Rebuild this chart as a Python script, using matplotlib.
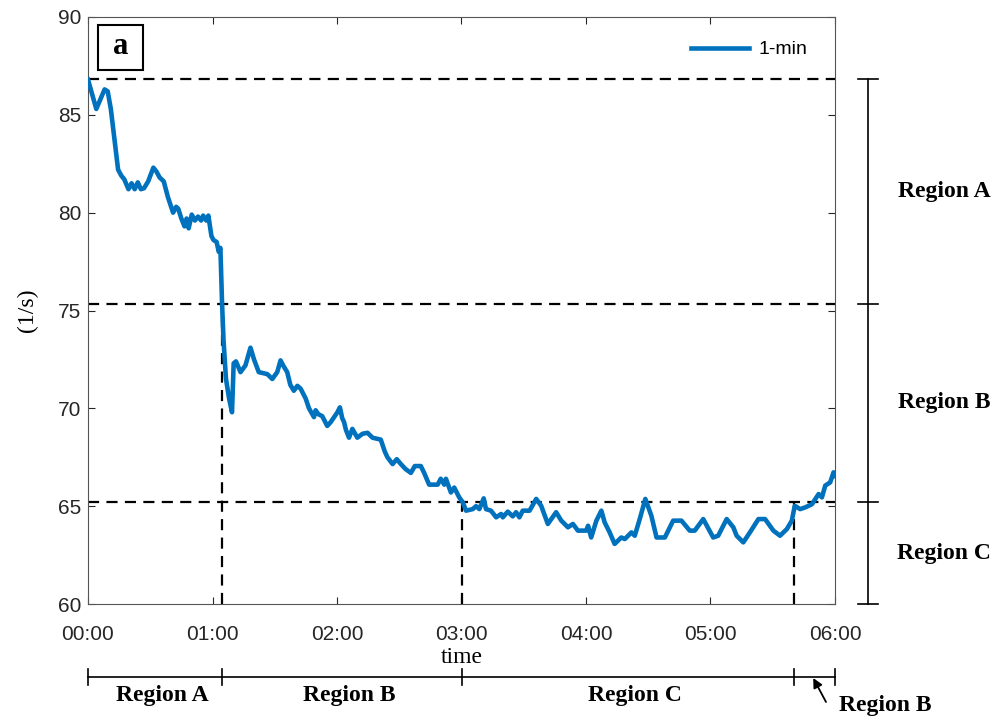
import matplotlib.pyplot as plt
import matplotlib.transforms as mtransforms
from matplotlib.patches import Rectangle

# 1-min rate trace, time in minutes from 00:00
t_min = [0, 4, 8, 9.5, 11, 14.5, 16, 17.5, 19.5, 21, 22.5, 24, 25.5, 27, 29,
         31.5, 33, 34.5, 36.5, 38.5, 41, 42.5, 43.5, 45, 46.5, 47.5, 48.5, 50,
         51.5, 53, 54.5, 55.5, 57, 58, 59.5, 60.5, 62, 63, 63.8, 64.6, 65.3,
         66.5, 68, 69.4, 70.2, 71.3, 73.5, 75.9, 78.3, 80, 82.3, 86.4, 88.8,
         91.2, 92.8, 94, 96, 97.5, 99.2, 100.9, 102.5, 104.9, 106.5, 108.9,
         109.7, 111, 112.9, 115.3, 117, 120.2, 121.4, 122.5, 123.4, 124.3,
         125.8, 127.4, 129.8, 132.3, 134.7, 137.1, 139, 141.1, 143, 144.3,
         146.8, 148.8, 150.8, 153, 155.6, 157.5, 160.4, 162, 164.4, 168.5, 170,
         171.7, 172.5, 174.9, 176.5, 178.9, 180.6, 182.2, 185.4, 187, 188.6,
         190.7, 191.8, 194.2, 196.7, 199.1, 199.9, 202.3, 204.7, 206.3, 207.9,
         209.5, 212.8, 216, 218.4, 221.6, 225.6, 228.1, 231.3, 233.7, 236.1,
         240.1, 241, 242.5, 245, 247.4, 249, 251.4, 253.8, 257, 258.7, 261.9,
         263.5, 265.9, 268.6, 271.5, 274, 278, 282, 286, 290, 292.4, 296.5,
         301.3, 303.7, 307.8, 311, 312.6, 315.8, 319, 323.1, 326.3, 330.3,
         333.5, 336.8, 339.2, 340.6, 343.2, 345.7, 348.9, 352.1, 353.7, 355.3,
         357.7, 359.3, 360]
rate = [86.8, 85.3, 86.3, 86.2, 85.3, 82.2, 81.9, 81.7, 81.2, 81.5, 81.2,
        81.55, 81.2, 81.25, 81.6, 82.3, 82.1, 81.8, 81.6, 80.8, 80.0, 80.3,
        80.2, 79.7, 79.3, 79.7, 79.2, 79.9, 79.6, 79.8, 79.6, 79.85, 79.6,
        79.85, 78.8, 78.6, 78.5, 78.0, 78.2, 75.4, 73.5, 71.5, 70.5, 69.8,
        72.3, 72.4, 71.85, 72.2, 73.1, 72.5, 71.85, 71.75, 71.5, 71.85, 72.45,
        72.2, 71.85, 71.2, 70.9, 71.15, 71.0, 70.5, 70.0, 69.55, 69.9, 69.7,
        69.6, 69.1, 69.3, 69.8, 70.05, 69.5, 69.3, 68.9, 68.5, 68.95, 68.5,
        68.7, 68.75, 68.5, 68.45, 68.4, 67.8, 67.5, 67.15, 67.4, 67.15, 66.9,
        66.7, 67.05, 67.05, 66.7, 66.1, 66.1, 66.4, 66.1, 66.4, 65.7, 65.95,
        65.45, 65.2, 64.77, 64.85, 65.0, 64.85, 65.4, 64.85, 64.77, 64.43,
        64.6, 64.43, 64.72, 64.48, 64.69, 64.43, 64.77, 64.77, 65.37, 65.02,
        64.09, 64.69, 64.26, 63.92, 64.09, 63.75, 63.75, 64.0, 63.4, 64.26,
        64.77, 64.17, 63.66, 63.07, 63.4, 63.32, 63.66, 63.49, 64.34, 65.37,
        64.51, 63.4, 63.4, 64.26, 64.26, 63.75, 63.75, 64.34, 63.4, 63.49,
        64.34, 63.92, 63.49, 63.15, 63.66, 64.34, 64.34, 63.75, 63.49, 63.83,
        64.26, 65.02, 64.85, 64.94, 65.1, 65.62, 65.45, 66.05, 66.22, 66.73,
        66.56]

x_ticks = [0, 60, 120, 180, 240, 300, 360]
x_labels = ['00:00', '01:00', '02:00', '03:00', '04:00', '05:00', '06:00']
y_ticks = [60, 65, 70, 75, 80, 85, 90]

# region thresholds on the rate axis and the times where the trace crosses them
levels = [86.85, 75.35, 65.2]
cross_t = [64.5, 180.4, 340.2]
cross_level = [75.35, 65.2, 65.2]

time_bounds = [0, 64.5, 180.4, 340.2, 360]
time_regions = ['Region A', 'Region B', 'Region C', 'Region B']
rate_bounds = [86.85, 75.35, 65.2, 60]
rate_regions = ['Region A', 'Region B', 'Region C']

sans = 'Liberation Sans'
serif = 'Liberation Serif'
grey = '#262626'
dash = (0, (5, 3.3))

fig = plt.figure(figsize=(9.95, 7.18), dpi=100)
ax = fig.add_axes([88 / 995, 1 - 604 / 718, 747 / 995, 587 / 718])

ax.plot(t_min, rate, color='#0072BD', lw=3.3, label='1-min', zorder=3,
        solid_joinstyle='round')

for lv in levels:
    ax.axhline(lv, color='black', lw=1.6, ls=dash, zorder=2)
for tc, lv in zip(cross_t, cross_level):
    ax.plot([tc, tc], [60, lv], color='black', lw=1.6, ls=dash, zorder=2)

ax.set_xlim(0, 360)
ax.set_ylim(60, 90)
ax.set_xticks(x_ticks)
ax.set_xticklabels(x_labels)
ax.set_yticks(y_ticks)
ax.tick_params(direction='in', top=True, right=True, length=5, width=0.8,
               color=grey, labelcolor=grey, labelsize=15)
ax.tick_params(axis='x', pad=15)
ax.tick_params(axis='y', pad=5)
for lab in ax.get_xticklabels() + ax.get_yticklabels():
    lab.set_family(sans)
for sp in ax.spines.values():
    sp.set_color('#555555')
    sp.set_linewidth(0.8)

ax.set_xlabel('time', family=serif, fontsize=17, labelpad=2)
ax.set_ylabel('(1/s)', family=serif, fontsize=17, labelpad=14)

leg = ax.legend(loc='upper right', bbox_to_anchor=(1.0, 1.006),
                frameon=False, handlelength=3.0, handletextpad=0.5,
                prop={'family': sans, 'size': 14}, borderaxespad=1.0)

# panel tag
ax.add_patch(Rectangle((0.013, 0.91), 0.061, 0.077, transform=ax.transAxes,
                       fill=False, ec='black', lw=1.5, zorder=5))
ax.text(0.0435, 0.949, 'a', transform=ax.transAxes, family=serif,
        weight='bold', fontsize=22, ha='center', va='center', zorder=6)

# time bracket under the axis
tb = mtransforms.blended_transform_factory(ax.transData, fig.transFigure)
yb = 1 - 677 / 718
tick_h = 8 / 718
ax.plot([time_bounds[0], time_bounds[-1]], [yb, yb], color='black', lw=1.2,
        transform=tb, clip_on=False)
for tb_x in time_bounds:
    ax.plot([tb_x, tb_x], [yb - tick_h, yb + tick_h], color='black', lw=1.2,
            transform=tb, clip_on=False)
for i, name in enumerate(time_regions[:3]):
    mid = (time_bounds[i] + time_bounds[i + 1]) / 2 + 3.5
    ax.text(mid, 1 - 696 / 718, name, transform=tb, family=serif,
            weight='bold', fontsize=17, ha='center', va='center')
ax.text(885 / 995, 1 - 705 / 718, time_regions[3], transform=fig.transFigure,
        family=serif, weight='bold', fontsize=17, ha='center', va='center')
ax.annotate('', xy=(349.5, yb - 1 / 718), xycoords=tb,
            xytext=(826 / 995, 1 - 702 / 718), textcoords='figure fraction',
            arrowprops=dict(arrowstyle='-|>', color='black', lw=1.3,
                            mutation_scale=14, shrinkA=0, shrinkB=0))

# rate bracket to the right of the axis
rb = mtransforms.blended_transform_factory(fig.transFigure, ax.transData)
xr = 868 / 995
cap_w = 10 / 995
ax.plot([xr, xr], [rate_bounds[0], rate_bounds[-1]], color='black', lw=1.2,
        transform=rb, clip_on=False)
for rv in rate_bounds:
    ax.plot([xr - cap_w, xr + cap_w], [rv, rv], color='black', lw=1.2,
            transform=rb, clip_on=False)
for i, name in enumerate(rate_regions):
    mid = (rate_bounds[i] + rate_bounds[i + 1]) / 2
    ax.text(944 / 995, mid, name, transform=rb, family=serif, weight='bold',
            fontsize=17, ha='center', va='center')

fig.savefig('out.png', dpi=100)
